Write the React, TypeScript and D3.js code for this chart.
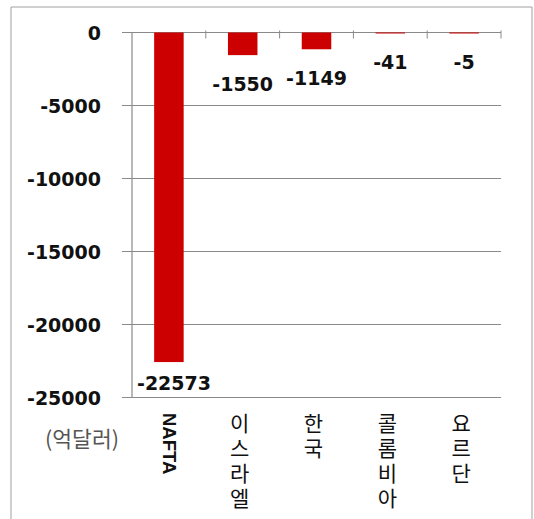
import * as d3 from "d3";

const categories = ["NAFTA", "이스라엘", "한국", "콜롬비아", "요르단"];
const values = [-22573, -1550, -1149, -41, -5];
const yTicks = [0, -5000, -10000, -15000, -20000, -25000];
const unitLabel = "(억달러)";

const W = 534;
const H = 519;
const plot = { left: 132, right: 501, top: 32.5, bottom: 397.5 };

export default function App() {
	const y = d3.scaleLinear().domain([-25000, 0]).range([plot.bottom, plot.top]);
	const x = d3.scaleBand<string>()
		.domain(categories)
		.range([plot.left, plot.right])
		.paddingInner(0.6)
		.paddingOuter(0.3);
	const step = x.step();
	const numFont = "'DejaVu Sans', sans-serif";
	const grid = "#8a8a8a";

	return (
		<svg width={W} height={H} style={{ position: "absolute", left: 0, top: 0, background: "#fff" }}>
			{/* outer frame */}
			<line x1={11} y1={7} x2={532} y2={7} stroke="#a0a0a0" />
			<line x1={11} y1={7} x2={11} y2={H} stroke="#a0a0a0" />
			<line x1={532} y1={7} x2={532} y2={H} stroke="#a0a0a0" />

			{/* gridlines + y ticks */}
			{yTicks.map(t => (
				<g key={t}>
					<line x1={122} x2={plot.right} y1={y(t)} y2={y(t)} stroke={grid} strokeWidth={1.2} />
					<text
						x={101}
						y={y(t) + 7.5}
						textAnchor="end"
						fontFamily={numFont}
						fontWeight="bold"
						fontSize={19}
						fill="#111"
					>
						{t}
					</text>
				</g>
			))}

			{/* y axis line */}
			<line x1={plot.left} x2={plot.left} y1={plot.top} y2={plot.bottom} stroke={grid} strokeWidth={1.2} />

			{/* category ticks on zero line */}
			{categories.map((c, i) => (
				<line
					key={c}
					x1={plot.left + (i + 1) * step}
					x2={plot.left + (i + 1) * step}
					y1={y(0) - 2}
					y2={y(0) + 6}
					stroke={grid}
				/>
			))}

			{/* bars */}
			{categories.map((c, i) => (
				<rect
					key={c}
					x={x(c)}
					y={y(0)}
					width={x.bandwidth()}
					height={Math.max(1, y(values[i]) - y(0))}
					fill="#cc0000"
				/>
			))}

			{/* value labels, kept inside the plot area */}
			{categories.map((c, i) => (
				<text
					key={c}
					x={Math.max(x(c)! + x.bandwidth() / 2, plot.left + 42)}
					y={Math.min(y(values[i]) + 36, plot.bottom - 7.5)}
					textAnchor="middle"
					fontFamily={numFont}
					fontWeight="bold"
					fontSize={19}
					fill="#111"
				>
					{values[i]}
				</text>
			))}

			{/* category labels */}
			{categories.map(c => {
				const cx = x(c)! + x.bandwidth() / 2;
				if (/^[A-Za-z]+$/.test(c)) {
					return (
						<text
							key={c}
							transform={`translate(${cx - 6},${413}) rotate(90)`}
							fontFamily="'Liberation Sans', Arial, sans-serif"
							fontWeight="bold"
							fontSize={18.5}
							fill="#111"
						>
							{c}
						</text>
					);
				}
				return (
					<text
						key={c}
						x={cx - 3}
						y={413}
						fontFamily="'Noto Sans CJK KR', sans-serif"
						fontSize={21}
						fill="#111"
						style={{ writingMode: "vertical-rl", textOrientation: "upright", letterSpacing: "4px" } as any}
					>
						{c}
					</text>
				);
			})}

			{/* unit label */}
			<text
				x={82}
				y={447}
				textAnchor="middle"
				fontFamily="'Noto Sans CJK KR', sans-serif"
				fontSize={21.5}
				fill="#555"
			>
				{unitLabel}
			</text>
		</svg>
	);
}
